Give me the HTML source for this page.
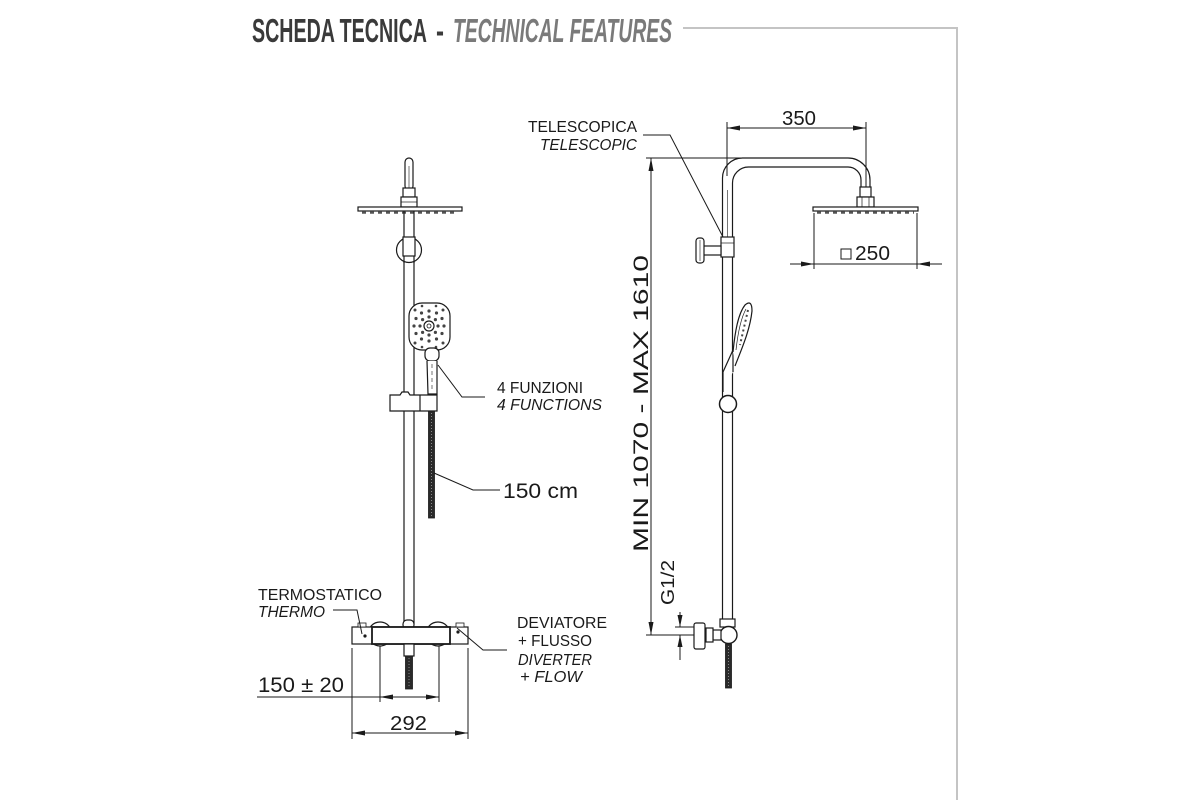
<!DOCTYPE html>
<html><head><meta charset="utf-8"><style>
html,body{margin:0;padding:0;background:#fff;}
svg{display:block;}
text{font-family:"Liberation Sans",sans-serif;fill:#1a1a1a;}
</style></head><body>
<svg width="1200" height="800" viewBox="0 0 1200 800" xmlns="http://www.w3.org/2000/svg">
<rect width="1200" height="800" fill="#fff"/>
<!-- Header -->
<text x="252" y="42" font-size="33" font-weight="bold" textLength="175" lengthAdjust="spacingAndGlyphs" style="fill:#3a3a3a">SCHEDA TECNICA</text>
<text x="436" y="42" font-size="33" font-weight="bold" textLength="8" lengthAdjust="spacingAndGlyphs" style="fill:#3a3a3a">-</text>
<text x="453" y="42" font-size="33" font-weight="bold" font-style="italic" textLength="219" lengthAdjust="spacingAndGlyphs" style="fill:#7a7a7a">TECHNICAL FEATURES</text>
<polyline points="683,28 957,28 957,800" fill="none" stroke="#c4c4c4" stroke-width="2"/>

<g fill="none" stroke="#1a1a1a" stroke-width="1.2">
<!-- ============ LEFT VIEW ============ -->
<!-- top pipe with rounded tip -->
<rect x="405" y="158" width="8" height="32" rx="4" fill="#fff"/>
<line x1="409" y1="166" x2="409" y2="188" stroke-width="0.6"/>
<rect x="403" y="188" width="12" height="9" fill="#fff"/>
<rect x="401" y="197" width="16" height="10" fill="#fff"/>
<line x1="401" y1="202" x2="417" y2="202" stroke-width="0.7"/>
<!-- head plate -->
<rect x="358" y="207" width="104" height="4" fill="#fff"/>
<line x1="362" y1="212.5" x2="458" y2="212.5" stroke="#555" stroke-width="2.5" stroke-dasharray="4 4"/>
<!-- main pipe -->
<line x1="404" y1="211" x2="404" y2="624"/>
<line x1="414" y1="211" x2="414" y2="624"/>
<!-- bracket -->
<circle cx="409" cy="250" r="12.5" fill="#fff"/>
<rect x="403" y="237" width="12" height="19" fill="#fff"/>
<line x1="404" y1="256" x2="404" y2="263"/>
<line x1="414" y1="256" x2="414" y2="263"/>
<!-- hand shower head -->
<rect x="409" y="303" width="41" height="47" rx="13" fill="#fff"/>
<circle cx="429" cy="326" r="5"/>
<circle cx="429" cy="326" r="2" stroke-width="0.8"/>
</g>
<g fill="#444">
<circle cx="438" cy="326" r="1.6"/><circle cx="435.4" cy="332.4" r="1.6"/><circle cx="429" cy="335" r="1.6"/><circle cx="422.6" cy="332.4" r="1.6"/>
<circle cx="420" cy="326" r="1.6"/><circle cx="422.6" cy="319.6" r="1.6"/><circle cx="429" cy="317" r="1.6"/><circle cx="435.4" cy="319.6" r="1.6"/>
<circle cx="444" cy="326" r="1.6"/><circle cx="442" cy="333.5" r="1.6"/><circle cx="436.5" cy="339" r="1.6"/><circle cx="429" cy="341" r="1.6"/>
<circle cx="421.5" cy="339" r="1.6"/><circle cx="416" cy="333.5" r="1.6"/><circle cx="414" cy="326" r="1.6"/><circle cx="416" cy="318.5" r="1.6"/>
<circle cx="421.5" cy="313" r="1.6"/><circle cx="429" cy="311" r="1.6"/><circle cx="436.5" cy="313" r="1.6"/><circle cx="442" cy="318.5" r="1.6"/>
<circle cx="415" cy="310" r="1.5"/><circle cx="443" cy="310" r="1.5"/><circle cx="415" cy="343" r="1.5"/><circle cx="443" cy="343" r="1.5"/>
<circle cx="422" cy="306" r="1.3"/><circle cx="436" cy="306" r="1.3"/><circle cx="422" cy="347" r="1.3"/><circle cx="436" cy="347" r="1.3"/>
</g>
<g fill="none" stroke="#1a1a1a" stroke-width="1.2">
<!-- handle -->
<rect x="425" y="348" width="14" height="13" rx="5" fill="#fff"/>
<path d="M427,361 L428,394 L437,394 L437,361" fill="#fff"/>
<line x1="432" y1="364" x2="432" y2="390" stroke-width="0.6" stroke-dasharray="4 3"/>
<!-- slider -->
<path d="M390,395 L400,395 L402,392 L408,392 L410,395 L437,395 L437,411 L390,411 Z" fill="#fff"/>
<line x1="420" y1="395" x2="420" y2="411"/>
<!-- hose -->
<rect x="428.5" y="411" width="6" height="107" fill="#2a2a2a" stroke-width="0.8"/>
<line x1="431.5" y1="413" x2="431.5" y2="516" stroke="#888" stroke-width="1" stroke-dasharray="1 2"/>

<!-- mixer -->
<circle cx="380" cy="634" r="12" fill="#fff"/>
<circle cx="438" cy="634" r="12" fill="#fff"/>
<rect x="403" y="620" width="11" height="9" rx="4" fill="#fff"/>
<rect x="352" y="627" width="116" height="17" fill="#fff"/>
<rect x="372" y="627" width="78" height="17" fill="#fff" stroke-width="1.8"/>
<rect x="358" y="623" width="8" height="4" fill="#fff" stroke-width="0.8"/>
<rect x="456" y="623" width="8" height="4" fill="#fff" stroke-width="0.8"/>
<circle cx="365" cy="636" r="1" fill="#1a1a1a"/>
<circle cx="458" cy="632" r="1" fill="#1a1a1a"/>
<rect x="404" y="644" width="10" height="12" fill="#fff"/>
<rect x="405.5" y="656" width="7" height="33" fill="#2a2a2a" stroke-width="0.8"/>
<line x1="409" y1="658" x2="409" y2="687" stroke="#888" stroke-width="1" stroke-dasharray="1 2"/>
</g>

<!-- left dimensions & leaders -->
<g fill="none" stroke="#1a1a1a" stroke-width="1">
<polyline points="438,365 462,397 485,397"/>
<polyline points="434,473 473,490 500,490"/>
<polyline points="333,610 357,610 362,634"/>
<polyline points="457,628 483,650 507,650"/>
<line x1="352" y1="648" x2="352" y2="739"/>
<line x1="468" y1="648" x2="468" y2="739"/>
<line x1="380" y1="646" x2="380" y2="702"/>
<line x1="439" y1="646" x2="439" y2="702"/>
<line x1="257" y1="697" x2="439" y2="697"/>
<line x1="352" y1="733" x2="468" y2="733"/>
</g>
<g fill="#1a1a1a">
<polygon points="380,697 393,694.5 393,699.5"/>
<polygon points="439,697 426,694.5 426,699.5"/>
<polygon points="352,733 365,730.5 365,735.5"/>
<polygon points="468,733 455,730.5 455,735.5"/>
</g>

<text x="497" y="393" font-size="15.5" textLength="86" lengthAdjust="spacingAndGlyphs">4 FUNZIONI</text>
<text x="497" y="410" font-size="15.5" font-style="italic" textLength="105" lengthAdjust="spacingAndGlyphs">4 FUNCTIONS</text>
<text x="503" y="498" font-size="21" textLength="75" lengthAdjust="spacingAndGlyphs">150 cm</text>
<text x="258" y="600" font-size="16" textLength="124" lengthAdjust="spacingAndGlyphs">TERMOSTATICO</text>
<text x="258" y="617" font-size="16" font-style="italic" textLength="67" lengthAdjust="spacingAndGlyphs">THERMO</text>
<text x="517" y="628" font-size="16" textLength="90" lengthAdjust="spacingAndGlyphs">DEVIATORE</text>
<text x="518" y="646" font-size="16" textLength="74" lengthAdjust="spacingAndGlyphs">+ FLUSSO</text>
<text x="518" y="665" font-size="16" font-style="italic" textLength="74" lengthAdjust="spacingAndGlyphs">DIVERTER</text>
<text x="520" y="682" font-size="16" font-style="italic" textLength="62" lengthAdjust="spacingAndGlyphs">+ FLOW</text>
<text x="258" y="692" font-size="21" textLength="86" lengthAdjust="spacingAndGlyphs">150 ± 20</text>
<text x="390" y="730" font-size="20" textLength="37" lengthAdjust="spacingAndGlyphs">292</text>

<!-- ============ RIGHT VIEW ============ -->
<g fill="none" stroke="#1a1a1a" stroke-width="1.2">
<!-- arm -->
<path d="M722.5,240 L722.5,178 A20,20 0 0 1 742.5,158 L848,158 A22,22 0 0 1 870,180 L870,188"/>
<path d="M732.5,238 L732.5,183 A16,16 0 0 1 748.5,167 L848,167 A13,13 0 0 1 861,180 L861,188"/>
<line x1="727.5" y1="190" x2="727.5" y2="237" stroke-width="0.6"/>
<!-- head nut and plate -->
<rect x="860" y="187" width="11" height="10" fill="#fff"/>
<rect x="857" y="197" width="17" height="10" fill="#fff"/>
<line x1="862" y1="197" x2="862" y2="207" stroke-width="0.7"/>
<line x1="869" y1="197" x2="869" y2="207" stroke-width="0.7"/>
<rect x="813" y="207" width="105" height="4" fill="#fff"/>
<line x1="817" y1="212.5" x2="914" y2="212.5" stroke="#555" stroke-width="2.5" stroke-dasharray="4 4"/>
<!-- telescopic joint & valve -->
<rect x="721" y="237" width="13" height="20" fill="#fff"/>
<line x1="721" y1="243" x2="734" y2="243" stroke-width="0.7"/>
<rect x="703" y="246" width="18" height="9" fill="#fff"/>
<rect x="696" y="238" width="8" height="25" rx="3" fill="#fff"/>
<line x1="700" y1="240" x2="700" y2="261" stroke-width="0.6"/>
<!-- main pipe -->
<line x1="722.5" y1="257" x2="722.5" y2="622"/>
<line x1="732.5" y1="257" x2="732.5" y2="622"/>
<!-- hand shower -->
<path d="M723,392 L723,372 L733,350 L733,372" fill="#fff"/>
<path d="M733,352 C735,332 738,314 745,305 Q752,299 752,311 C750,330 742,348 735,366" fill="#fff"/>
<path d="M736,350 C738,332 741,318 746,309" stroke-width="0.7"/>
<line x1="748" y1="310" x2="740" y2="345" stroke="#444" stroke-width="2" stroke-dasharray="2 3"/>
<circle cx="728" cy="404" r="8.5" fill="#fff" stroke-width="1.5"/>
<!-- lower connection -->
<rect x="720" y="619" width="15" height="8" fill="#fff"/>
<circle cx="728.5" cy="635" r="8.5" fill="#fff" stroke-width="1.4"/>
<rect x="713" y="630" width="8" height="10" fill="#fff"/>
<rect x="706" y="628" width="7" height="14" fill="#fff"/>
<rect x="694" y="623" width="11" height="26" rx="2" fill="#fff"/>
<rect x="725.5" y="644" width="6" height="44" fill="#2a2a2a" stroke-width="0.8"/>
<line x1="728.5" y1="646" x2="728.5" y2="686" stroke="#888" stroke-width="1" stroke-dasharray="1 2"/>
</g>

<!-- right dimensions -->
<g fill="none" stroke="#1a1a1a" stroke-width="1">
<line x1="727" y1="122" x2="727" y2="176"/>
<line x1="866" y1="122" x2="866" y2="187"/>
<line x1="727" y1="128" x2="866" y2="128"/>
<line x1="814" y1="213" x2="814" y2="269"/>
<line x1="917" y1="213" x2="917" y2="269"/>
<line x1="790" y1="264" x2="942" y2="264"/>
<line x1="646" y1="158" x2="745" y2="158"/>
<line x1="651" y1="158" x2="651" y2="635"/>
<line x1="646" y1="635" x2="694" y2="635"/>
<line x1="675" y1="627" x2="694" y2="627"/>
<line x1="680" y1="612" x2="680" y2="627"/>
<line x1="680" y1="635" x2="680" y2="660"/>
<polyline points="643,135 670,135 723,237"/>
</g>
<g fill="#1a1a1a">
<polygon points="727,128 740,125.5 740,130.5"/>
<polygon points="866,128 853,125.5 853,130.5"/>
<polygon points="814,264 801,261.5 801,266.5"/>
<polygon points="917,264 930,261.5 930,266.5"/>
<polygon points="651,158 648.5,171 653.5,171"/>
<polygon points="651,635 648.5,622 653.5,622"/>
<polygon points="680,627 677.5,615 682.5,615"/>
<polygon points="680,635 677.5,647 682.5,647"/>
</g>
<rect x="841" y="249" width="10" height="10" fill="none" stroke="#1a1a1a" stroke-width="1"/>
<text x="855" y="260" font-size="20" textLength="35" lengthAdjust="spacingAndGlyphs">250</text>
<text x="782" y="125" font-size="20" textLength="34" lengthAdjust="spacingAndGlyphs">350</text>
<text x="528" y="132" font-size="15.5" textLength="109" lengthAdjust="spacingAndGlyphs">TELESCOPICA</text>
<text x="540" y="150" font-size="15.5" font-style="italic" textLength="97" lengthAdjust="spacingAndGlyphs">TELESCOPIC</text>
<text transform="translate(648,552) rotate(-90)" x="0" y="0" font-size="21" textLength="297" lengthAdjust="spacingAndGlyphs">MIN  1070  -  MAX 1610</text>
<text transform="translate(674,605) rotate(-90)" x="0" y="0" font-size="18" textLength="45" lengthAdjust="spacingAndGlyphs">G1/2</text>
</svg>
</body></html>
